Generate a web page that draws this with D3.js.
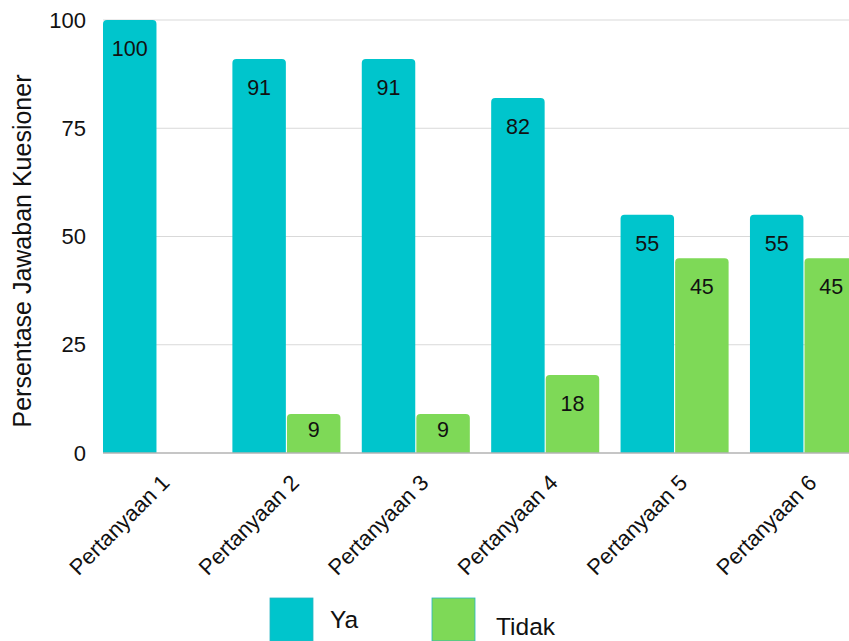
<!DOCTYPE html>
<html>
<head>
<meta charset="utf-8">
<script src="https://cdn.jsdelivr.net/npm/d3@7"></script>
<style>
  body { margin: 0; background: #fff; }
  svg { font-family: "Liberation Sans", Arial, sans-serif; }
</style>
</head>
<body>
<div id="chart"></div>
<script>
const categories = ["Pertanyaan 1", "Pertanyaan 2", "Pertanyaan 3", "Pertanyaan 4", "Pertanyaan 5", "Pertanyaan 6"];
const seriesNames = ["Ya", "Tidak"];
const yaValues = [100, 91, 91, 82, 55, 55];
const tidakValues = [0, 9, 9, 18, 45, 45];
const yTicks = [0, 25, 50, 75, 100];
const colors = ["#00c5cc", "#7ed957"];

const width = 849, height = 641;
const svg = d3.select("#chart").append("svg")
  .attr("width", width)
  .attr("height", height);

const x0 = d3.scaleBand()
  .domain(categories)
  .range([103, 858])
  .paddingInner(0.165)
  .paddingOuter(0)
  .align(0);

const x1 = d3.scaleBand()
  .domain(seriesNames)
  .range([0, x0.bandwidth()])
  .padding(0.02)
  .paddingOuter(0);

const y = d3.scaleLinear()
  .domain([0, 100])
  .range([453, 20]);

// gridlines
svg.append("g")
  .selectAll("line")
  .data(yTicks.filter(d => d > 0))
  .join("line")
  .attr("x1", 103)
  .attr("x2", width)
  .attr("y1", d => y(d))
  .attr("y2", d => y(d))
  .attr("stroke", "#d9d9d9")
  .attr("stroke-width", 1);

// y tick labels
const yAxis = d3.axisLeft(y).tickValues(yTicks).tickSize(0).tickPadding(17);
svg.append("g")
  .attr("transform", "translate(103,0)")
  .call(yAxis)
  .call(g => g.select(".domain").remove())
  .selectAll("text")
  .attr("font-size", 22)
  .attr("font-family", "Liberation Sans, Arial, sans-serif")
  .attr("fill", "#111");

// y title
svg.append("text")
  .attr("transform", "translate(31,251) rotate(-90)")
  .attr("text-anchor", "middle")
  .attr("font-size", 25)
  .attr("fill", "#111")
  .text("Persentase Jawaban Kuesioner");

// bars
const data = categories.map((c, i) => ({ cat: c, vals: [yaValues[i], tidakValues[i]] }));

function topRounded(x, yTop, w, h, r) {
  if (h <= 0) return "";
  r = Math.min(r, h, w / 2);
  return `M${x},${yTop + h}V${yTop + r}Q${x},${yTop} ${x + r},${yTop}` +
    `H${x + w - r}Q${x + w},${yTop} ${x + w},${yTop + r}V${yTop + h}Z`;
}

const groups = svg.append("g")
  .selectAll("g")
  .data(data)
  .join("g")
  .attr("transform", d => `translate(${x0(d.cat)},0)`);

groups.selectAll("path")
  .data(d => d.vals.map((v, k) => ({ key: seriesNames[k], value: v, k: k })))
  .join("path")
  .attr("d", d => topRounded(x1(d.key), y(d.value), x1.bandwidth(), y(0) - y(d.value), 4))
  .attr("fill", d => colors[d.k]);

// value labels sit near the top, but stay inside short bars
groups.selectAll("text")
  .data(d => d.vals.map((v, k) => ({ key: seriesNames[k], value: v })).filter(d => d.value > 0))
  .join("text")
  .attr("x", d => x1(d.key) + x1.bandwidth() / 2)
  .attr("y", d => Math.min(y(d.value) + 36, y(0) - 16))
  .attr("text-anchor", "middle")
  .attr("font-size", 21.5)
  .attr("fill", "#111")
  .text(d => d.value);

// baseline
svg.append("line")
  .attr("x1", 103)
  .attr("x2", width)
  .attr("y1", y(0))
  .attr("y2", y(0))
  .attr("stroke", "#b3b3b3")
  .attr("stroke-width", 1.5);

// x labels
svg.append("g")
  .selectAll("text")
  .data(categories)
  .join("text")
  .attr("transform", d => `translate(${x0(d) + x0.bandwidth() / 2 + 14},${y(0) + 31}) rotate(-45)`)
  .attr("text-anchor", "end")
  .attr("font-size", 22)
  .attr("fill", "#111")
  .text(d => d);

// legend
const legendX = [270, 432];
const legend = svg.append("g")
  .selectAll("g")
  .data(seriesNames)
  .join("g")
  .attr("transform", (d, i) => `translate(${legendX[i]},598)`);

legend.append("rect")
  .attr("width", 43)
  .attr("height", 43)
  .attr("fill", (d, i) => colors[i])
  .attr("stroke", "#27b6c4")
  .attr("stroke-width", 0.8);

legend.append("text")
  .attr("x", (d, i) => i === 0 ? 60 : 64)
  .attr("y", (d, i) => i === 0 ? 30 : 37)
  .attr("font-size", 24.5)
  .attr("fill", "#111")
  .text(d => d);
</script>
</body>
</html>
